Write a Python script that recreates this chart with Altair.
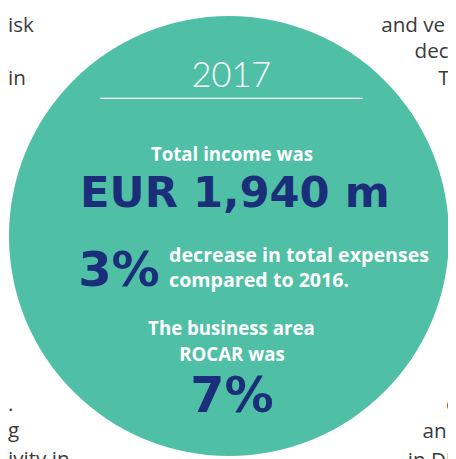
import altair as alt
import pandas as pd

# ---- content ----
year = ["2017"]
income_label = ["Total income was"]
income_value = ["EUR 1,940 m"]
expense_value = ["3%"]
expense_text = ["decrease in total expenses", "compared to 2016."]
rocar_text = ["The business area", "ROCAR was"]
rocar_value = ["7%"]
# cropped surrounding body text
bg_text = ["isk", "in", "and ve", "dec", "T", ".", "g", "ivity in", "c", "an", ". in DK"]

# ---- layout (image pixel coordinates) ----
TEAL = "#4fbfa5"
NAVY = "#1b2e7a"
GREY = "#3a3a3a"

bg_x = [8, 8, 388, 422, 446, 8, 8, 8, 454, 430, 404]
bg_y = [28, 82, 28, 55, 82, 414, 441, 470, 414, 442, 471]

X = alt.X("x:Q", scale=alt.Scale(domain=[8, 456], nice=False, zero=False), axis=None)
Y = alt.Y("y:Q", scale=alt.Scale(domain=[459, 8], nice=False, zero=False), axis=None)

bg = pd.DataFrame({"x": bg_x, "y": bg_y, "t": bg_text})
bg_layer = alt.Chart(bg).mark_text(
    align="left", baseline="alphabetic", font="Open Sans", fontSize=21, color=GREY
).encode(x=X, y=Y, text="t:N")

circle = alt.Chart(pd.DataFrame({"x": [233], "y": [236]})).mark_circle(
    size=448 * 448, color=TEAL, opacity=1
).encode(x=X, y=Y)

def txt(df, **kw):
    return alt.Chart(df).mark_text(baseline="alphabetic", **kw).encode(x=X, y=Y, text="t:N")

yr = txt(pd.DataFrame({"x": [235.5], "y": [84], "t": year}),
         align="center", font="Lato", fontWeight=300, fontSize=35, color="white")

line = alt.Chart(pd.DataFrame({"x": [102], "x2": [369], "y": [96]})).mark_rule(
    color="white", strokeWidth=1.2
).encode(x=X, x2="x2:Q", y=Y)

white_center = pd.DataFrame({
    "x": [236, 235.5, 236],
    "y": [160, 337, 363],
    "t": income_label + rocar_text,
})
wc = txt(white_center, align="center", font="Open Sans", fontWeight="bold", fontSize=19, color="white")

white_left = pd.DataFrame({"x": [172, 172], "y": [263, 288], "t": expense_text})
wl = txt(white_left, align="left", font="Open Sans", fontWeight="bold", fontSize=20, color="white")

big1 = txt(pd.DataFrame({"x": [239], "y": [207], "t": income_value}),
           align="center", font="DejaVu Sans", fontWeight="bold", fontSize=44, color=NAVY)
big2 = txt(pd.DataFrame({"x": [121], "y": [287], "t": expense_value}),
           align="center", font="DejaVu Sans", fontWeight="bold", fontSize=49, color=NAVY)
big3 = txt(pd.DataFrame({"x": [236], "y": [415], "t": rocar_value}),
           align="center", font="DejaVu Sans", fontWeight="bold", fontSize=50, color=NAVY)

chart = alt.layer(bg_layer, circle, yr, line, wc, wl, big1, big2, big3).properties(
    width=448, height=451, padding=0, autosize=alt.AutoSizeParams(type="none")
).configure_view(stroke=None)

chart.save("out.html", embed_options={"renderer": "svg", "actions": False})
